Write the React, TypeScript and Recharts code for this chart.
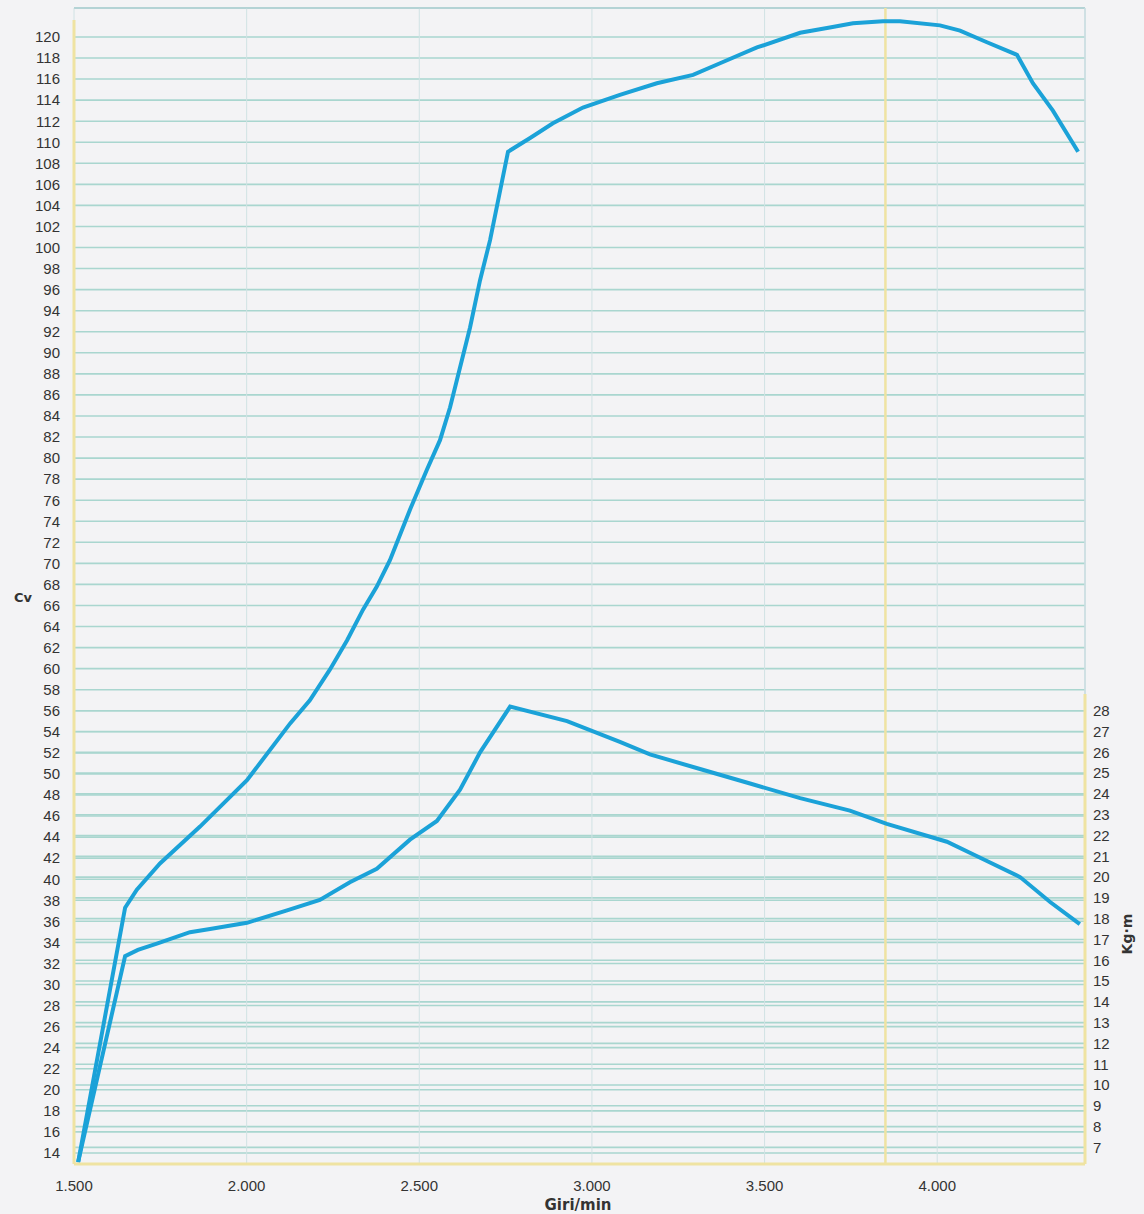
import { LineChart, Line, XAxis, YAxis, CartesianGrid, ReferenceLine } from 'recharts';

// Power curve (Cv)
const powerRpm = [
  1512, 1648, 1682, 1749, 1865, 2001, 2126, 2183, 2241, 2291, 2337, 2377, 2415, 2473, 2522,
  2560, 2589, 2618, 2647, 2676, 2705, 2757, 2821, 2887, 2974, 3081, 3188, 3293, 3371, 3478,
  3603, 3689, 3756, 3843, 3892, 4008, 4066, 4144, 4231, 4277, 4335, 4408,
];
const powerCv = [
  13.1, 37.3, 39.0, 41.5, 45.0, 49.4, 54.8, 57.0, 59.9, 62.7, 65.6, 67.8, 70.3, 75.1, 78.9,
  81.7, 84.8, 88.6, 92.4, 96.9, 100.7, 109.1, 110.4, 111.8, 113.3, 114.5, 115.6, 116.4, 117.5, 119.0,
  120.4, 120.9, 121.3, 121.5, 121.5, 121.1, 120.6, 119.5, 118.3, 115.6, 113.0, 109.1,
];

// Torque curve (Kg·m)
const torqueRpm = [
  1512, 1648, 1685, 1740, 1836, 1894, 2001, 2117, 2212, 2299, 2377, 2473, 2551, 2618, 2676,
  2763, 2928, 3081, 3168, 3313, 3458, 3603, 3747, 3854, 4028, 4132, 4240, 4327, 4413,
];
const torqueKgm = [
  6.3, 16.2, 16.5, 16.8, 17.35, 17.5, 17.8, 18.4, 18.9, 19.75, 20.4, 21.8, 22.7, 24.2, 26.0,
  28.2, 27.5, 26.5, 25.9, 25.2, 24.5, 23.8, 23.2, 22.56, 21.7, 20.87, 20.0, 18.8, 17.74,
];

const rpmTicks = [1500, 2000, 2500, 3000, 3500, 4000];
const cvTicks = [
  14, 16, 18, 20, 22, 24, 26, 28, 30, 32, 34, 36, 38, 40, 42, 44, 46, 48, 50, 52, 54, 56, 58,
  60, 62, 64, 66, 68, 70, 72, 74, 76, 78, 80, 82, 84, 86, 88, 90, 92, 94, 96, 98, 100, 102,
  104, 106, 108, 110, 112, 114, 116, 118, 120,
];
const kgmTicks = [7, 8, 9, 10, 11, 12, 13, 14, 15, 16, 17, 18, 19, 20, 21, 22, 23, 24, 25, 26, 27, 28];
const peakRpm = 3850;

const powerData = powerRpm.map((rpm, i) => ({ rpm, cv: powerCv[i] }));
const torqueData = torqueRpm.map((rpm, i) => ({ rpm, kgm: torqueKgm[i] }));

const X_MAX = 4428;
const CV_DOMAIN: [number, number] = [12.95, 122.75];
const KGM_DOMAIN: [number, number] = [6.2, 61.8];

const CURVE = '#1ba2d8';
const GRID = '#a9d6cf';
const YELLOW = '#efe3a2';
const tickStyle = { fill: '#333', fontSize: 15, fontFamily: '"Liberation Sans", Arial, sans-serif' };
const titleStyle = {
  position: 'absolute' as const,
  fontFamily: '"DejaVu Sans", Verdana, sans-serif',
  fontWeight: 700,
  color: '#333',
  whiteSpace: 'nowrap' as const,
};

const fmtRpm = (v: number) => `${Math.floor(v / 1000)}.${String(v % 1000).padStart(3, '0')}`;

export default function App() {
  return (
    <div style={{ position: 'absolute', left: 0, top: 0, width: 1144, height: 1214, background: '#f3f3f5' }}>
      <LineChart width={1144} height={1214} margin={{ top: 8, right: 0, bottom: 0, left: 0 }}>
        <CartesianGrid yAxisId="left" vertical={false} stroke={GRID} strokeWidth={1.6} />
        <CartesianGrid yAxisId="right" vertical={false} stroke={GRID} strokeWidth={1.6} />
        <CartesianGrid yAxisId="left" horizontal={false} stroke="#d0e2e4" strokeWidth={1} />
        <XAxis
          type="number"
          dataKey="rpm"
          domain={[1500, X_MAX]}
          allowDataOverflow
          ticks={rpmTicks}
          tickFormatter={fmtRpm}
          tick={tickStyle}
          tickLine={false}
          tickMargin={10}
          height={50}
          axisLine={{ stroke: YELLOW, strokeWidth: 3 }}
        />
        <YAxis
          yAxisId="left"
          type="number"
          domain={CV_DOMAIN}
          allowDataOverflow
          ticks={cvTicks}
          interval={0}
          tick={tickStyle}
          tickLine={false}
          tickMargin={8}
          width={74}
          axisLine={false}
        />
        <YAxis
          yAxisId="right"
          orientation="right"
          type="number"
          domain={KGM_DOMAIN}
          allowDataOverflow
          ticks={kgmTicks}
          interval={0}
          tick={tickStyle}
          tickLine={false}
          width={59}
          axisLine={false}
        />
        <ReferenceLine yAxisId="left" y={CV_DOMAIN[1]} stroke="#b7d2d6" strokeWidth={1.5} />
        <ReferenceLine yAxisId="left" x={X_MAX} stroke="#c8dde0" strokeWidth={1.5} />
        {/* yellow frame: left side stops a little below the top rule */}
        <ReferenceLine
          yAxisId="left"
          segment={[{ x: 1500, y: CV_DOMAIN[0] }, { x: 1500, y: 121.6 }]}
          stroke={YELLOW}
          strokeWidth={3}
        />
        <ReferenceLine
          yAxisId="right"
          segment={[{ x: X_MAX, y: KGM_DOMAIN[0] }, { x: X_MAX, y: 28.8 }]}
          stroke={YELLOW}
          strokeWidth={3}
        />
        <ReferenceLine yAxisId="left" x={peakRpm} stroke={YELLOW} strokeWidth={2.5} />
        <Line
          yAxisId="left"
          data={powerData}
          dataKey="cv"
          type="linear"
          stroke={CURVE}
          strokeWidth={4}
          dot={false}
          isAnimationActive={false}
        />
        <Line
          yAxisId="right"
          data={torqueData}
          dataKey="kgm"
          type="linear"
          stroke={CURVE}
          strokeWidth={4}
          dot={false}
          isAnimationActive={false}
        />
      </LineChart>
      <div style={{ ...titleStyle, left: 14, top: 590, fontSize: 13 }}>Cv</div>
      <div style={{ ...titleStyle, left: 578, top: 1196, fontSize: 15, transform: 'translateX(-50%)' }}>Giri/min</div>
      <div
        style={{
          ...titleStyle,
          left: 1127,
          top: 934,
          fontSize: 14,
          transform: 'translate(-50%, -50%) rotate(-90deg)',
        }}
      >
        Kg·m
      </div>
    </div>
  );
}
